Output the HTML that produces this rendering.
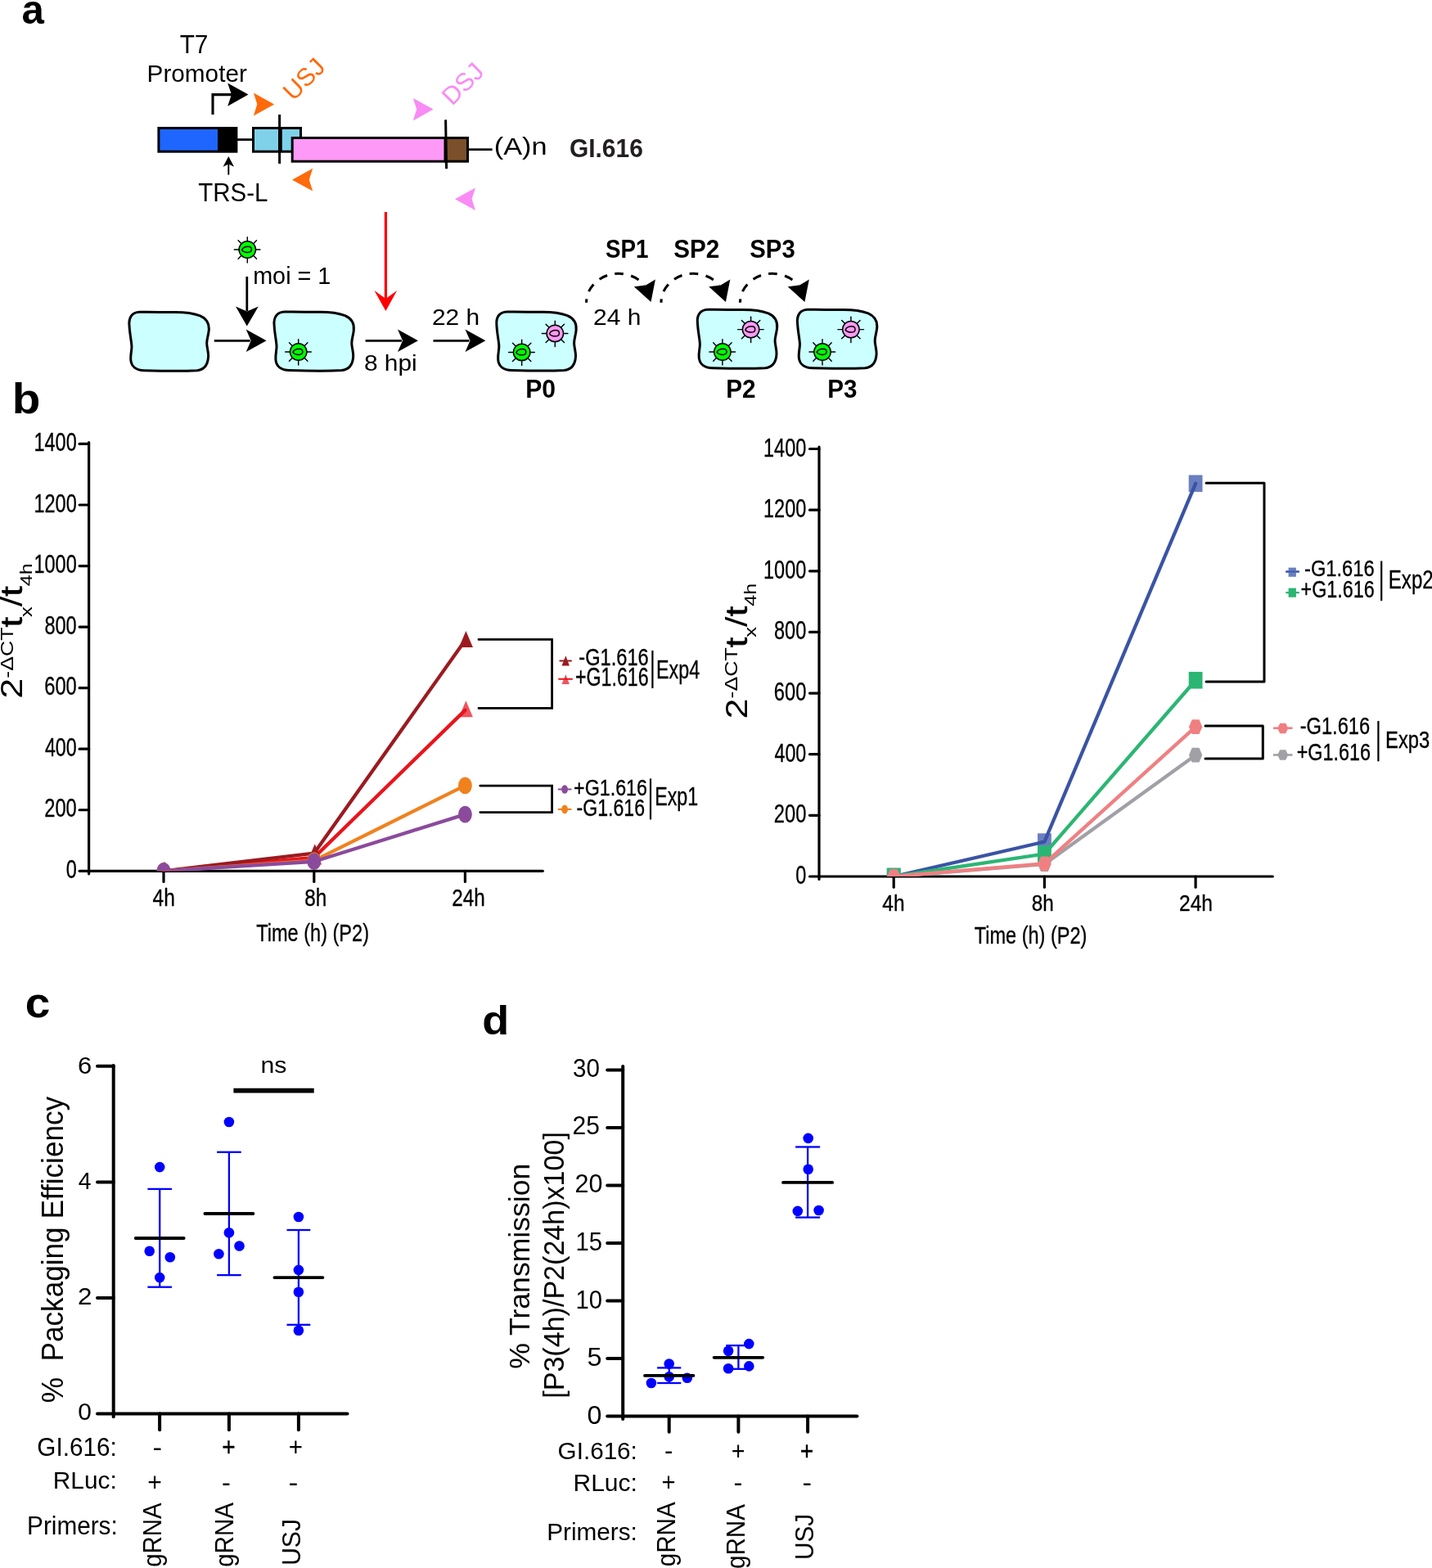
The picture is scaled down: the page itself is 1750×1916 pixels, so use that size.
<!DOCTYPE html>
<html><head><meta charset="utf-8"><title>Figure</title>
<style>html,body{margin:0;padding:0;background:#fff;}svg{display:block;}</style>
</head><body>
<svg xmlns="http://www.w3.org/2000/svg" width="1750" height="1916" viewBox="0 0 1750 1916" font-family="'Liberation Sans', Arial, sans-serif">
<text x="26.52" y="29.11" font-size="49.20" font-weight="bold">a</text>
<text x="219.63" y="65.00" font-size="30.55" textLength="34.82" lengthAdjust="spacingAndGlyphs">T7</text>
<text x="179.55" y="100.00" font-size="29.09" textLength="122.30" lengthAdjust="spacingAndGlyphs">Promoter</text>
<polyline points="260.00,140.00 260.00,115.60 283.00,115.60" fill="none" stroke="#000" stroke-width="3.1" stroke-linejoin="miter"/>
<polygon points="303.50,115.40 278.20,101.40 282.90,115.40 278.20,129.70" fill="#000"/>
<polygon points="335.10,127.40 309.90,113.50 314.30,127.20 309.90,141.50" fill="#FF6A0A"/>
<polygon points="357.00,219.70 382.20,205.70 377.80,219.70 382.20,233.60" fill="#FF6A0A"/>
<text x="358.50" y="124.20" font-size="30.5" text-anchor="start" fill="#FF6A0A" transform="rotate(-45 358.50 124.20)">USJ</text>
<polygon points="529.60,133.60 504.80,120.00 509.20,133.60 504.80,147.50" fill="#F98BF5"/>
<polygon points="556.00,243.30 581.00,229.60 576.60,243.30 581.00,257.00" fill="#F98BF5"/>
<text x="552.50" y="130.00" font-size="30.5" text-anchor="start" fill="#F98BF5" transform="rotate(-45 552.50 130.00)">DSJ</text>
<rect x="193.9" y="156.5" width="95" height="28.7" fill="#1E66FF" stroke="#000" stroke-width="3"/>
<rect x="266" y="156.5" width="23" height="28.7" fill="#000"/>
<line x1="290.00" y1="170.60" x2="309.00" y2="170.60" stroke="#000" stroke-width="2.8" stroke-linecap="butt"/>
<rect x="309.5" y="156.5" width="58" height="28.7" fill="#7FD1EA" stroke="#000" stroke-width="3"/>
<line x1="341.60" y1="140.00" x2="341.60" y2="200.00" stroke="#000" stroke-width="3" stroke-linecap="butt"/>
<rect x="340.0" y="156" width="4.8" height="30" fill="#000"/>
<rect x="357.2" y="168.5" width="187" height="28.7" fill="#FF99F7" stroke="#000" stroke-width="3"/>
<rect x="544.2" y="168.5" width="27.3" height="28.7" fill="#7B4F2A" stroke="#000" stroke-width="3"/>
<line x1="544.60" y1="146.40" x2="545.60" y2="206.30" stroke="#000" stroke-width="3" stroke-linecap="butt"/>
<line x1="573.00" y1="182.70" x2="601.60" y2="182.70" stroke="#000" stroke-width="2.7" stroke-linecap="butt"/>
<text x="603.75" y="189.10" font-size="29.96" textLength="64.85" lengthAdjust="spacingAndGlyphs">(A)n</text>
<text x="695.90" y="191.80" font-size="30.69" font-weight="bold" fill="#231F20" textLength="89.91" lengthAdjust="spacingAndGlyphs">GI.616</text>
<line x1="279.30" y1="213.60" x2="279.30" y2="198.00" stroke="#000" stroke-width="1.9" stroke-linecap="butt"/>
<polygon points="279.30,191.00 272.60,203.70 279.30,200.60 286.00,203.70" fill="#000"/>
<text x="242.24" y="245.70" font-size="30.68" textLength="85.17" lengthAdjust="spacingAndGlyphs">TRS-L</text>
<line x1="471.40" y1="259.00" x2="471.40" y2="366.00" stroke="#FF0000" stroke-width="3.2" stroke-linecap="butt"/>
<polygon points="471.40,380.00 457.40,355.10 471.40,364.90 485.20,355.10" fill="#FF0000"/>
<defs><path id="cell" d="M 1.5,17.5 C 0.5,8 5,1.5 14,1.3 C 30,1.5 45,1.8 58,1.6 C 70,1.6 80,3 88,6 C 96,9.5 99.5,16 98.7,24 C 98,31 96,35 96.2,40 C 96.5,46 98.5,51 98.1,56 C 97.5,66 93,72 84,72.9 C 70,73.6 40,73.4 20,72.9 C 10,72.7 4,68 3.3,60 C 2.7,53 4.8,48 4.4,42.7 C 4,36 2,28 1.5,17.5 Z" fill="#CCFFFF" stroke="#000" stroke-width="3" stroke-linejoin="round"/><g id="vir"><g stroke="#000" stroke-width="1.45" stroke-linecap="round"><line x1="10" y1="0" x2="15.6" y2="0"/><line x1="-10" y1="0" x2="-16" y2="0"/><line x1="0" y1="10" x2="0" y2="16"/><line x1="0" y1="-10" x2="0" y2="-15.3"/><line x1="7.1" y1="7.1" x2="11.2" y2="11.2"/><line x1="-7.1" y1="7.1" x2="-11.2" y2="11.2"/><line x1="7.1" y1="-7.1" x2="11.2" y2="-11.2"/><line x1="-7.1" y1="-7.1" x2="-11.2" y2="-11.2"/></g></g></defs>
<use href="#cell" x="156.50" y="379.90"/>
<use href="#cell" x="333.60" y="379.70"/>
<use href="#cell" x="605.40" y="379.60"/>
<use href="#cell" x="850.90" y="376.90"/>
<use href="#cell" x="973.00" y="376.90"/>
<g transform="translate(302.30 305.00)"><use href="#vir"/><circle r="10.2" fill="#00FF00" stroke="#000" stroke-width="1.5"/><path d="M -6.7,0.4 C -5.7,-2.0 -2.4,-3.8 0.9,-3.8 C 3.8,-3.8 5.1,-2.2 5.1,-0.2 C 5.1,2.0 3.4,3.4 0.4,3.4 C -2.8,3.4 -5.5,2.3 -6.7,0.4 Z" fill="#00FF00" stroke="#000" stroke-width="1.5"/></g>
<g transform="translate(364.70 430.00)"><use href="#vir"/><circle r="10.2" fill="#00FF00" stroke="#000" stroke-width="1.5"/><path d="M -6.7,0.4 C -5.7,-2.0 -2.4,-3.8 0.9,-3.8 C 3.8,-3.8 5.1,-2.2 5.1,-0.2 C 5.1,2.0 3.4,3.4 0.4,3.4 C -2.8,3.4 -5.5,2.3 -6.7,0.4 Z" fill="#00FF00" stroke="#000" stroke-width="1.5"/></g>
<g transform="translate(637.65 430.40)"><use href="#vir"/><circle r="10.2" fill="#00FF00" stroke="#000" stroke-width="1.5"/><path d="M -6.7,0.4 C -5.7,-2.0 -2.4,-3.8 0.9,-3.8 C 3.8,-3.8 5.1,-2.2 5.1,-0.2 C 5.1,2.0 3.4,3.4 0.4,3.4 C -2.8,3.4 -5.5,2.3 -6.7,0.4 Z" fill="#00FF00" stroke="#000" stroke-width="1.5"/></g>
<g transform="translate(678.30 407.40)"><use href="#vir"/><circle r="10.2" fill="#FF99F5" stroke="#000" stroke-width="1.5"/><path d="M -6.7,0.4 C -5.7,-2.0 -2.4,-3.8 0.9,-3.8 C 3.8,-3.8 5.1,-2.2 5.1,-0.2 C 5.1,2.0 3.4,3.4 0.4,3.4 C -2.8,3.4 -5.5,2.3 -6.7,0.4 Z" fill="#FF99F5" stroke="#000" stroke-width="1.5"/></g>
<g transform="translate(882.90 430.00)"><use href="#vir"/><circle r="10.2" fill="#00FF00" stroke="#000" stroke-width="1.5"/><path d="M -6.7,0.4 C -5.7,-2.0 -2.4,-3.8 0.9,-3.8 C 3.8,-3.8 5.1,-2.2 5.1,-0.2 C 5.1,2.0 3.4,3.4 0.4,3.4 C -2.8,3.4 -5.5,2.3 -6.7,0.4 Z" fill="#00FF00" stroke="#000" stroke-width="1.5"/></g>
<g transform="translate(917.60 402.60)"><use href="#vir"/><circle r="10.2" fill="#FF99F5" stroke="#000" stroke-width="1.5"/><path d="M -6.7,0.4 C -5.7,-2.0 -2.4,-3.8 0.9,-3.8 C 3.8,-3.8 5.1,-2.2 5.1,-0.2 C 5.1,2.0 3.4,3.4 0.4,3.4 C -2.8,3.4 -5.5,2.3 -6.7,0.4 Z" fill="#FF99F5" stroke="#000" stroke-width="1.5"/></g>
<g transform="translate(1005.00 430.00)"><use href="#vir"/><circle r="10.2" fill="#00FF00" stroke="#000" stroke-width="1.5"/><path d="M -6.7,0.4 C -5.7,-2.0 -2.4,-3.8 0.9,-3.8 C 3.8,-3.8 5.1,-2.2 5.1,-0.2 C 5.1,2.0 3.4,3.4 0.4,3.4 C -2.8,3.4 -5.5,2.3 -6.7,0.4 Z" fill="#00FF00" stroke="#000" stroke-width="1.5"/></g>
<g transform="translate(1039.90 402.60)"><use href="#vir"/><circle r="10.2" fill="#FF99F5" stroke="#000" stroke-width="1.5"/><path d="M -6.7,0.4 C -5.7,-2.0 -2.4,-3.8 0.9,-3.8 C 3.8,-3.8 5.1,-2.2 5.1,-0.2 C 5.1,2.0 3.4,3.4 0.4,3.4 C -2.8,3.4 -5.5,2.3 -6.7,0.4 Z" fill="#FF99F5" stroke="#000" stroke-width="1.5"/></g>
<line x1="261.80" y1="416.30" x2="305.60" y2="416.30" stroke="#000" stroke-width="2.8" stroke-linecap="butt"/>
<polygon points="325.60,416.30 300.70,402.60 306.70,416.30 300.70,430.00" fill="#000"/>
<line x1="446.60" y1="416.30" x2="490.90" y2="416.30" stroke="#000" stroke-width="2.8" stroke-linecap="butt"/>
<polygon points="510.90,416.30 486.00,402.60 492.00,416.30 486.00,430.00" fill="#000"/>
<line x1="529.50" y1="416.30" x2="573.40" y2="416.30" stroke="#000" stroke-width="2.8" stroke-linecap="butt"/>
<polygon points="593.40,416.30 568.50,402.60 574.50,416.30 568.50,430.00" fill="#000"/>
<line x1="301.80" y1="338.00" x2="301.80" y2="380.00" stroke="#000" stroke-width="2.8" stroke-linecap="butt"/>
<polygon points="301.80,398.50 288.00,374.50 301.80,380.50 315.80,374.50" fill="#000"/>
<text x="309.16" y="347.40" font-size="29.82" textLength="95.17" lengthAdjust="spacingAndGlyphs">moi = 1</text>
<text x="444.93" y="453.40" font-size="27.45" textLength="64.85" lengthAdjust="spacingAndGlyphs">8 hpi</text>
<text x="527.90" y="397.10" font-size="28.28" textLength="58.21" lengthAdjust="spacingAndGlyphs">22 h</text>
<text x="725.00" y="396.90" font-size="28.41" textLength="58.31" lengthAdjust="spacingAndGlyphs">24 h</text>
<text x="642.27" y="486.40" font-size="30.69" font-weight="bold" textLength="36.86" lengthAdjust="spacingAndGlyphs">P0</text>
<text x="887.19" y="486.40" font-size="30.69" font-weight="bold" textLength="36.34" lengthAdjust="spacingAndGlyphs">P2</text>
<text x="1011.30" y="486.40" font-size="30.69" font-weight="bold" textLength="36.26" lengthAdjust="spacingAndGlyphs">P3</text>
<text x="739.97" y="315.40" font-size="31.85" font-weight="bold" textLength="52.50" lengthAdjust="spacingAndGlyphs">SP1</text>
<text x="823.21" y="315.40" font-size="31.85" font-weight="bold" textLength="56.00" lengthAdjust="spacingAndGlyphs">SP2</text>
<text x="916.32" y="315.40" font-size="31.85" font-weight="bold" textLength="55.41" lengthAdjust="spacingAndGlyphs">SP3</text>
<path d="M 716.60,369.70 A 39.4,35.4 0 0 1 787.47,348.40" fill="none" stroke="#000" stroke-width="3.1" stroke-dasharray="10.5,9.5" stroke-dashoffset="6.1"/>
<polygon points="795.50,369.00 774.80,350.20 789.20,348.60 800.90,341.40" fill="#000"/>
<path d="M 808.00,369.70 A 39.4,35.4 0 0 1 878.87,348.40" fill="none" stroke="#000" stroke-width="3.1" stroke-dasharray="10.5,9.5" stroke-dashoffset="6.1"/>
<polygon points="886.90,369.00 866.20,350.20 880.60,348.60 892.30,341.40" fill="#000"/>
<path d="M 904.50,369.70 A 39.4,35.4 0 0 1 975.37,348.40" fill="none" stroke="#000" stroke-width="3.1" stroke-dasharray="10.5,9.5" stroke-dashoffset="6.1"/>
<polygon points="983.40,369.00 962.70,350.20 977.10,348.60 988.80,341.40" fill="#000"/>
<text x="14.72" y="505.09" font-size="51.16" font-weight="bold" textLength="34.60" lengthAdjust="spacingAndGlyphs">b</text>
<line x1="108.60" y1="540.50" x2="108.60" y2="1067.80" stroke="#000" stroke-width="3.2" stroke-linecap="round"/>
<line x1="97.10" y1="1064.30" x2="663.30" y2="1064.30" stroke="#000" stroke-width="3.2" stroke-linecap="round"/>
<line x1="97.10" y1="989.75" x2="108.60" y2="989.75" stroke="#000" stroke-width="3.2" stroke-linecap="round"/>
<line x1="97.10" y1="915.20" x2="108.60" y2="915.20" stroke="#000" stroke-width="3.2" stroke-linecap="round"/>
<line x1="97.10" y1="840.65" x2="108.60" y2="840.65" stroke="#000" stroke-width="3.2" stroke-linecap="round"/>
<line x1="97.10" y1="766.10" x2="108.60" y2="766.10" stroke="#000" stroke-width="3.2" stroke-linecap="round"/>
<line x1="97.10" y1="691.55" x2="108.60" y2="691.55" stroke="#000" stroke-width="3.2" stroke-linecap="round"/>
<line x1="97.10" y1="617.00" x2="108.60" y2="617.00" stroke="#000" stroke-width="3.2" stroke-linecap="round"/>
<line x1="97.10" y1="542.45" x2="108.60" y2="542.45" stroke="#000" stroke-width="3.2" stroke-linecap="round"/>
<text x="80.66" y="1072.80" font-size="31.54" textLength="13.05" lengthAdjust="spacingAndGlyphs" stroke="#000" stroke-width="0.35">0</text>
<text x="54.22" y="998.25" font-size="31.54" textLength="39.50" lengthAdjust="spacingAndGlyphs" stroke="#000" stroke-width="0.35">200</text>
<text x="54.88" y="923.70" font-size="31.54" textLength="38.82" lengthAdjust="spacingAndGlyphs" stroke="#000" stroke-width="0.35">400</text>
<text x="54.22" y="849.15" font-size="31.54" textLength="39.50" lengthAdjust="spacingAndGlyphs" stroke="#000" stroke-width="0.35">600</text>
<text x="54.40" y="774.60" font-size="31.54" textLength="39.31" lengthAdjust="spacingAndGlyphs" stroke="#000" stroke-width="0.35">800</text>
<text x="41.44" y="700.05" font-size="31.54" textLength="52.30" lengthAdjust="spacingAndGlyphs" stroke="#000" stroke-width="0.35">1000</text>
<text x="41.44" y="625.50" font-size="31.54" textLength="52.30" lengthAdjust="spacingAndGlyphs" stroke="#000" stroke-width="0.35">1200</text>
<text x="41.44" y="550.95" font-size="31.54" textLength="52.30" lengthAdjust="spacingAndGlyphs" stroke="#000" stroke-width="0.35">1400</text>
<line x1="200.00" y1="1064.30" x2="200.00" y2="1077.50" stroke="#000" stroke-width="3.2" stroke-linecap="round"/>
<line x1="383.80" y1="1064.30" x2="383.80" y2="1077.50" stroke="#000" stroke-width="3.2" stroke-linecap="round"/>
<line x1="568.40" y1="1064.30" x2="568.40" y2="1077.50" stroke="#000" stroke-width="3.2" stroke-linecap="round"/>
<text x="186.55" y="1106.90" font-size="28.83" textLength="27.24" lengthAdjust="spacingAndGlyphs" stroke="#000" stroke-width="0.35">4h</text>
<text x="372.17" y="1106.90" font-size="28.83" textLength="27.01" lengthAdjust="spacingAndGlyphs" stroke="#000" stroke-width="0.35">8h</text>
<text x="552.29" y="1106.90" font-size="28.83" textLength="40.45" lengthAdjust="spacingAndGlyphs" stroke="#000" stroke-width="0.35">24h</text>
<text x="313.27" y="1150.00" font-size="30.40" textLength="137.73" lengthAdjust="spacingAndGlyphs" stroke="#000" stroke-width="0.35">Time (h) (P2)</text>
<text transform="translate(27.30 853.70) rotate(-90)" font-size="37" textLength="165.50" lengthAdjust="spacingAndGlyphs">2<tspan font-size="21.8" dy="-11.3">-ΔCT</tspan><tspan dy="11.3" stroke="#000" stroke-width="0.55">t</tspan><tspan font-size="21" dy="11.8">x</tspan><tspan dy="-11.8">/</tspan><tspan stroke="#000" stroke-width="0.55">t</tspan><tspan font-size="20.6" dy="11.8">4h</tspan></text>
<clipPath id="clipL"><rect x="100" y="500" width="600" height="564.3"/></clipPath>
<clipPath id="clipR"><rect x="990" y="500" width="600" height="571.0"/></clipPath>
<g clip-path="url(#clipL)">
<polygon points="201.00,1052.80 192.50,1072.80 209.50,1072.80" fill="#EE5560"/>
<polygon points="384.80,1036.40 376.30,1056.40 393.30,1056.40" fill="#EE5560"/>
<polygon points="569.40,856.36 560.90,876.36 577.90,876.36" fill="#EE5560"/>
<polyline points="200.00,1064.30 383.80,1047.90 568.40,867.86" fill="none" stroke="#E8141C" stroke-width="4.3" stroke-linejoin="round" stroke-linecap="round"/>
<polygon points="201.00,1052.80 192.50,1072.80 209.50,1072.80" fill="#9B1B20"/>
<polygon points="384.80,1031.18 376.30,1051.18 393.30,1051.18" fill="#9B1B20"/>
<polygon points="569.40,771.00 560.90,791.00 577.90,791.00" fill="#9B1B20"/>
<polyline points="200.00,1064.30 383.80,1042.68 568.40,782.50" fill="none" stroke="#9B1B20" stroke-width="4.3" stroke-linejoin="round" stroke-linecap="round"/>
<ellipse cx="200.00" cy="1064.30" rx="8.4" ry="10.4" fill="#F0821E"/>
<ellipse cx="383.80" cy="1051.63" rx="8.4" ry="10.4" fill="#F0821E"/>
<ellipse cx="568.40" cy="959.93" rx="8.4" ry="10.4" fill="#F0821E"/>
<polyline points="200.00,1064.30 383.80,1051.63 568.40,959.93" fill="none" stroke="#F0821E" stroke-width="4.3" stroke-linejoin="round" stroke-linecap="round"/>
<ellipse cx="200.00" cy="1064.30" rx="8.4" ry="10.4" fill="#8B4A9C"/>
<ellipse cx="383.80" cy="1052.74" rx="8.4" ry="10.4" fill="#8B4A9C"/>
<ellipse cx="568.40" cy="995.15" rx="8.4" ry="10.4" fill="#8B4A9C"/>
<polyline points="200.00,1064.30 383.80,1052.74 568.40,995.15" fill="none" stroke="#8B4A9C" stroke-width="4.3" stroke-linejoin="round" stroke-linecap="round"/>
</g>
<polyline points="585.00,781.40 674.60,781.40 674.60,865.40 585.00,865.40" fill="none" stroke="#000" stroke-width="2.8" stroke-linecap="round"/>
<polyline points="586.80,960.20 674.60,960.20 674.60,992.60 586.80,992.60" fill="none" stroke="#000" stroke-width="2.8" stroke-linecap="round"/>
<line x1="684.40" y1="807.50" x2="698.00" y2="807.50" stroke="#9B1B20" stroke-width="2.1" stroke-linecap="round"/>
<polygon points="691.40,801.30 686.50,813.50 695.90,813.50" fill="#9B1B20"/>
<polygon points="691.40,824.00 686.50,836.10 695.90,836.10" fill="#EE5560"/>
<line x1="683.10" y1="829.80" x2="699.00" y2="829.80" stroke="#E8141C" stroke-width="2.1" stroke-linecap="round"/>
<text x="707.34" y="812.80" font-size="28.67" textLength="85.39" lengthAdjust="spacingAndGlyphs" stroke="#000" stroke-width="0.35">-G1.616</text>
<text x="702.90" y="838.30" font-size="31.54" textLength="89.84" lengthAdjust="spacingAndGlyphs" stroke="#000" stroke-width="0.35">+G1.616</text>
<line x1="797.40" y1="794.90" x2="797.40" y2="841.00" stroke="#000" stroke-width="2.2" stroke-linecap="butt"/>
<text x="802.08" y="828.80" font-size="30.98" textLength="53.11" lengthAdjust="spacingAndGlyphs" stroke="#000" stroke-width="0.35">Exp4</text>
<line x1="682.60" y1="964.50" x2="697.70" y2="964.50" stroke="#8B4A9C" stroke-width="1.9" stroke-linecap="round"/>
<ellipse cx="690.1" cy="964.5" rx="3.9" ry="5.35" fill="#8B4A9C"/>
<line x1="682.60" y1="988.90" x2="697.70" y2="988.90" stroke="#EE6D00" stroke-width="1.9" stroke-linecap="round"/>
<ellipse cx="690.1" cy="988.9" rx="3.9" ry="5.35" fill="#F0821E"/>
<text x="701.10" y="972.10" font-size="27.38" textLength="89.84" lengthAdjust="spacingAndGlyphs" stroke="#000" stroke-width="0.35">+G1.616</text>
<text x="704.56" y="996.70" font-size="28.67" textLength="83.44" lengthAdjust="spacingAndGlyphs" stroke="#000" stroke-width="0.35">-G1.616</text>
<line x1="795.00" y1="951.40" x2="795.00" y2="1001.40" stroke="#000" stroke-width="2.2" stroke-linecap="butt"/>
<text x="800.18" y="983.50" font-size="30.55" textLength="52.96" lengthAdjust="spacingAndGlyphs" stroke="#000" stroke-width="0.35">Exp1</text>
<line x1="1001.00" y1="546.00" x2="1001.00" y2="1074.50" stroke="#000" stroke-width="3.2" stroke-linecap="round"/>
<line x1="989.50" y1="1071.00" x2="1555.30" y2="1071.00" stroke="#000" stroke-width="3.2" stroke-linecap="round"/>
<line x1="989.50" y1="996.36" x2="1001.00" y2="996.36" stroke="#000" stroke-width="3.2" stroke-linecap="round"/>
<line x1="989.50" y1="921.72" x2="1001.00" y2="921.72" stroke="#000" stroke-width="3.2" stroke-linecap="round"/>
<line x1="989.50" y1="847.08" x2="1001.00" y2="847.08" stroke="#000" stroke-width="3.2" stroke-linecap="round"/>
<line x1="989.50" y1="772.44" x2="1001.00" y2="772.44" stroke="#000" stroke-width="3.2" stroke-linecap="round"/>
<line x1="989.50" y1="697.80" x2="1001.00" y2="697.80" stroke="#000" stroke-width="3.2" stroke-linecap="round"/>
<line x1="989.50" y1="623.16" x2="1001.00" y2="623.16" stroke="#000" stroke-width="3.2" stroke-linecap="round"/>
<line x1="989.50" y1="548.52" x2="1001.00" y2="548.52" stroke="#000" stroke-width="3.2" stroke-linecap="round"/>
<text x="972.26" y="1080.00" font-size="31.83" textLength="13.05" lengthAdjust="spacingAndGlyphs" stroke="#000" stroke-width="0.35">0</text>
<text x="945.82" y="1005.36" font-size="31.83" textLength="39.50" lengthAdjust="spacingAndGlyphs" stroke="#000" stroke-width="0.35">200</text>
<text x="946.48" y="930.72" font-size="31.83" textLength="38.82" lengthAdjust="spacingAndGlyphs" stroke="#000" stroke-width="0.35">400</text>
<text x="945.82" y="856.08" font-size="31.83" textLength="39.50" lengthAdjust="spacingAndGlyphs" stroke="#000" stroke-width="0.35">600</text>
<text x="946.00" y="781.44" font-size="31.83" textLength="39.31" lengthAdjust="spacingAndGlyphs" stroke="#000" stroke-width="0.35">800</text>
<text x="933.04" y="706.80" font-size="31.83" textLength="52.30" lengthAdjust="spacingAndGlyphs" stroke="#000" stroke-width="0.35">1000</text>
<text x="933.04" y="632.16" font-size="31.83" textLength="52.30" lengthAdjust="spacingAndGlyphs" stroke="#000" stroke-width="0.35">1200</text>
<text x="933.04" y="557.52" font-size="31.83" textLength="52.30" lengthAdjust="spacingAndGlyphs" stroke="#000" stroke-width="0.35">1400</text>
<line x1="1092.20" y1="1071.00" x2="1092.20" y2="1084.20" stroke="#000" stroke-width="3.2" stroke-linecap="round"/>
<line x1="1276.40" y1="1071.00" x2="1276.40" y2="1084.20" stroke="#000" stroke-width="3.2" stroke-linecap="round"/>
<line x1="1461.10" y1="1071.00" x2="1461.10" y2="1084.20" stroke="#000" stroke-width="3.2" stroke-linecap="round"/>
<text x="1078.35" y="1112.70" font-size="27.72" textLength="27.24" lengthAdjust="spacingAndGlyphs" stroke="#000" stroke-width="0.35">4h</text>
<text x="1260.87" y="1112.70" font-size="27.72" textLength="27.01" lengthAdjust="spacingAndGlyphs" stroke="#000" stroke-width="0.35">8h</text>
<text x="1440.97" y="1112.70" font-size="27.72" textLength="40.99" lengthAdjust="spacingAndGlyphs" stroke="#000" stroke-width="0.35">24h</text>
<text x="1190.77" y="1153.00" font-size="29.38" textLength="137.63" lengthAdjust="spacingAndGlyphs" stroke="#000" stroke-width="0.35">Time (h) (P2)</text>
<text transform="translate(912.60 878.50) rotate(-90)" font-size="37" textLength="165.70" lengthAdjust="spacingAndGlyphs">2<tspan font-size="21.8" dy="-11.3">-ΔCT</tspan><tspan dy="11.3" stroke="#000" stroke-width="0.55">t</tspan><tspan font-size="21" dy="11.8">x</tspan><tspan dy="-11.8">/</tspan><tspan stroke="#000" stroke-width="0.55">t</tspan><tspan font-size="20.6" dy="11.8">4h</tspan></text>
<g clip-path="url(#clipR)">
<rect x="1083.80" y="1060.70" width="16.8" height="20.6" fill="#6A7FC0"/>
<rect x="1268.00" y="1018.30" width="16.8" height="20.6" fill="#6A7FC0"/>
<rect x="1452.70" y="580.50" width="16.8" height="20.6" fill="#6A7FC0"/>
<polyline points="1092.20,1071.00 1276.40,1028.60 1461.10,590.80" fill="none" stroke="#3A54A4" stroke-width="4.3" stroke-linejoin="round" stroke-linecap="round"/>
<rect x="1083.80" y="1060.70" width="16.8" height="20.6" fill="#2BB673"/>
<rect x="1268.00" y="1033.20" width="16.8" height="20.6" fill="#2BB673"/>
<rect x="1452.70" y="820.92" width="16.8" height="20.6" fill="#2BB673"/>
<polyline points="1092.20,1071.00 1276.40,1043.50 1461.10,831.22" fill="none" stroke="#2BB673" stroke-width="4.3" stroke-linejoin="round" stroke-linecap="round"/>
<polygon points="1084.05,1071.00 1087.80,1062.15 1096.60,1062.15 1100.35,1071.00 1096.60,1079.85 1087.80,1079.85" fill="#A0A0A6"/>
<polygon points="1268.25,1056.07 1272.00,1047.22 1280.80,1047.22 1284.55,1056.07 1280.80,1064.92 1272.00,1064.92" fill="#A0A0A6"/>
<polygon points="1452.95,922.65 1456.70,913.80 1465.50,913.80 1469.25,922.65 1465.50,931.50 1456.70,931.50" fill="#A0A0A6"/>
<polyline points="1092.20,1071.00 1276.40,1056.07 1461.10,922.65" fill="none" stroke="#A0A0A6" stroke-width="4.3" stroke-linejoin="round" stroke-linecap="round"/>
<polygon points="1084.05,1071.00 1087.80,1062.15 1096.60,1062.15 1100.35,1071.00 1096.60,1079.85 1087.80,1079.85" fill="#F07F82"/>
<polygon points="1268.25,1055.33 1272.00,1046.48 1280.80,1046.48 1284.55,1055.33 1280.80,1064.18 1272.00,1064.18" fill="#F07F82"/>
<polygon points="1452.95,888.13 1456.70,879.28 1465.50,879.28 1469.25,888.13 1465.50,896.98 1456.70,896.98" fill="#F07F82"/>
<polyline points="1092.20,1071.00 1276.40,1055.33 1461.10,888.13" fill="none" stroke="#F07F82" stroke-width="4.3" stroke-linejoin="round" stroke-linecap="round"/>
</g>
<polyline points="1474.00,590.30 1545.00,590.30 1545.00,833.00 1474.00,833.00" fill="none" stroke="#000" stroke-width="3.0" stroke-linecap="round" stroke-linejoin="round"/>
<polyline points="1473.00,886.90 1543.30,886.90 1543.30,927.10 1473.00,927.10" fill="none" stroke="#000" stroke-width="3.0" stroke-linecap="round" stroke-linejoin="round"/>
<line x1="1571.30" y1="698.50" x2="1587.80" y2="698.50" stroke="#3A54A4" stroke-width="2.2" stroke-linecap="butt"/>
<rect x="1574.6" y="693.6" width="9.3" height="11.2" fill="#6A7FC0"/>
<line x1="1571.30" y1="698.50" x2="1587.80" y2="698.50" stroke="#3A54A4" stroke-width="2.0" stroke-linecap="butt" opacity="0.8"/>
<line x1="1571.30" y1="724.10" x2="1587.80" y2="724.10" stroke="#2BB673" stroke-width="2.2" stroke-linecap="butt"/>
<rect x="1574.6" y="718.6" width="9.3" height="11.2" fill="#2BB673"/>
<text x="1594.03" y="704.20" font-size="28.53" textLength="85.59" lengthAdjust="spacingAndGlyphs" stroke="#000" stroke-width="0.35">-G1.616</text>
<text x="1589.59" y="730.30" font-size="29.39" textLength="90.04" lengthAdjust="spacingAndGlyphs" stroke="#000" stroke-width="0.35">+G1.616</text>
<line x1="1688.20" y1="685.50" x2="1688.20" y2="734.20" stroke="#000" stroke-width="2.2" stroke-linecap="butt"/>
<text x="1696.81" y="718.70" font-size="31.13" textLength="54.94" lengthAdjust="spacingAndGlyphs" stroke="#000" stroke-width="0.35">Exp2</text>
<line x1="1555.90" y1="889.70" x2="1579.50" y2="889.70" stroke="#F07F82" stroke-width="2.6" stroke-linecap="butt"/>
<polygon points="1561.20,890.10 1564.19,883.85 1571.21,883.85 1574.20,890.10 1571.21,896.35 1564.19,896.35" fill="#F07F82"/>
<line x1="1555.90" y1="922.50" x2="1579.50" y2="922.50" stroke="#A0A0A6" stroke-width="2.6" stroke-linecap="butt"/>
<polygon points="1561.20,922.50 1564.19,916.25 1571.21,916.25 1574.20,922.50 1571.21,928.75 1564.19,928.75" fill="#A0A0A6"/>
<text x="1588.64" y="897.40" font-size="29.39" textLength="85.49" lengthAdjust="spacingAndGlyphs" stroke="#000" stroke-width="0.35">-G1.616</text>
<text x="1584.69" y="929.30" font-size="29.39" textLength="90.45" lengthAdjust="spacingAndGlyphs" stroke="#000" stroke-width="0.35">+G1.616</text>
<line x1="1684.40" y1="881.00" x2="1684.40" y2="930.30" stroke="#000" stroke-width="2.2" stroke-linecap="butt"/>
<text x="1693.04" y="913.80" font-size="29.82" textLength="54.22" lengthAdjust="spacingAndGlyphs" stroke="#000" stroke-width="0.35">Exp3</text>
<text x="30.70" y="1243.48" font-size="51.69" font-weight="bold" textLength="30.58" lengthAdjust="spacingAndGlyphs">c</text>
<line x1="138.70" y1="1302.00" x2="138.70" y2="1731.20" stroke="#000" stroke-width="4.0" stroke-linecap="round"/>
<line x1="119.00" y1="1727.60" x2="424.50" y2="1727.60" stroke="#000" stroke-width="4.0" stroke-linecap="round"/>
<line x1="119.00" y1="1586.00" x2="138.70" y2="1586.00" stroke="#000" stroke-width="4.0" stroke-linecap="round"/>
<line x1="119.00" y1="1444.40" x2="138.70" y2="1444.40" stroke="#000" stroke-width="4.0" stroke-linecap="round"/>
<line x1="119.00" y1="1302.80" x2="138.70" y2="1302.80" stroke="#000" stroke-width="4.0" stroke-linecap="round"/>
<text x="94.95" y="1311.50" font-size="29.39" textLength="17.20" lengthAdjust="spacingAndGlyphs">6</text>
<text x="95.86" y="1453.30" font-size="29.39" textLength="15.75" lengthAdjust="spacingAndGlyphs">4</text>
<text x="94.93" y="1594.40" font-size="29.39" textLength="17.48" lengthAdjust="spacingAndGlyphs">2</text>
<text x="95.30" y="1735.40" font-size="29.39" textLength="16.66" lengthAdjust="spacingAndGlyphs">0</text>
<line x1="195.10" y1="1727.60" x2="195.10" y2="1747.20" stroke="#000" stroke-width="4.0" stroke-linecap="round"/>
<line x1="279.90" y1="1727.60" x2="279.90" y2="1747.20" stroke="#000" stroke-width="4.0" stroke-linecap="round"/>
<line x1="364.90" y1="1727.60" x2="364.90" y2="1747.20" stroke="#000" stroke-width="4.0" stroke-linecap="round"/>
<text x="318.46" y="1311.30" font-size="27.91" textLength="31.93" lengthAdjust="spacingAndGlyphs">ns</text>
<line x1="285.40" y1="1332.60" x2="383.70" y2="1332.60" stroke="#000" stroke-width="5.6" stroke-linecap="butt"/>
<line x1="195.20" y1="1452.90" x2="195.20" y2="1572.70" stroke="#0000FF" stroke-width="2.3" stroke-linecap="butt"/>
<line x1="180.40" y1="1452.90" x2="210.00" y2="1452.90" stroke="#0000FF" stroke-width="2.3" stroke-linecap="butt"/>
<line x1="180.40" y1="1572.70" x2="210.00" y2="1572.70" stroke="#0000FF" stroke-width="2.3" stroke-linecap="butt"/>
<circle cx="195.20" cy="1426.10" r="6.3" fill="#0000FF"/>
<circle cx="182.70" cy="1528.80" r="6.3" fill="#0000FF"/>
<circle cx="207.80" cy="1536.30" r="6.3" fill="#0000FF"/>
<circle cx="195.20" cy="1561.10" r="6.3" fill="#0000FF"/>
<line x1="165.70" y1="1513.00" x2="224.70" y2="1513.00" stroke="#000" stroke-width="3.8" stroke-linecap="round"/>
<line x1="279.90" y1="1407.80" x2="279.90" y2="1558.10" stroke="#0000FF" stroke-width="2.3" stroke-linecap="butt"/>
<line x1="265.10" y1="1407.80" x2="294.70" y2="1407.80" stroke="#0000FF" stroke-width="2.3" stroke-linecap="butt"/>
<line x1="265.10" y1="1558.10" x2="294.70" y2="1558.10" stroke="#0000FF" stroke-width="2.3" stroke-linecap="butt"/>
<circle cx="279.90" cy="1371.00" r="6.3" fill="#0000FF"/>
<circle cx="279.90" cy="1506.30" r="6.3" fill="#0000FF"/>
<circle cx="292.50" cy="1522.50" r="6.3" fill="#0000FF"/>
<circle cx="267.40" cy="1532.30" r="6.3" fill="#0000FF"/>
<line x1="250.40" y1="1483.00" x2="309.40" y2="1483.00" stroke="#000" stroke-width="3.8" stroke-linecap="round"/>
<line x1="364.90" y1="1503.00" x2="364.90" y2="1618.80" stroke="#0000FF" stroke-width="2.3" stroke-linecap="butt"/>
<line x1="350.50" y1="1503.00" x2="379.30" y2="1503.00" stroke="#0000FF" stroke-width="2.3" stroke-linecap="butt"/>
<line x1="350.50" y1="1618.80" x2="379.30" y2="1618.80" stroke="#0000FF" stroke-width="2.3" stroke-linecap="butt"/>
<circle cx="364.90" cy="1487.00" r="6.3" fill="#0000FF"/>
<circle cx="364.90" cy="1551.90" r="6.3" fill="#0000FF"/>
<circle cx="364.90" cy="1578.70" r="6.3" fill="#0000FF"/>
<circle cx="364.90" cy="1625.80" r="6.3" fill="#0000FF"/>
<line x1="335.40" y1="1561.10" x2="394.40" y2="1561.10" stroke="#000" stroke-width="3.8" stroke-linecap="round"/>
<text transform="translate(76.60 1714.23) rotate(-90)" font-size="36.51" style="white-space:pre" textLength="374.39" lengthAdjust="spacingAndGlyphs">%  Packaging Efficiency</text>
<text x="45.32" y="1779.20" font-size="30.82" textLength="97.35" lengthAdjust="spacingAndGlyphs">GI.616:</text>
<text x="64.84" y="1819.10" font-size="30.40" textLength="77.84" lengthAdjust="spacingAndGlyphs">RLuc:</text>
<text x="33.05" y="1874.60" font-size="31.27" textLength="110.72" lengthAdjust="spacingAndGlyphs">Primers:</text>
<text x="186.44" y="1778.80" font-size="30.80" textLength="11.55" lengthAdjust="spacingAndGlyphs">-</text>
<text x="271.27" y="1778.80" font-size="30.80" textLength="16.41" lengthAdjust="spacingAndGlyphs" stroke="#000" stroke-width="0.35">+</text>
<text x="352.80" y="1778.80" font-size="30.80" textLength="17.25" lengthAdjust="spacingAndGlyphs">+</text>
<text x="180.37" y="1821.80" font-size="30.80" textLength="17.61" lengthAdjust="spacingAndGlyphs">+</text>
<text x="271.13" y="1821.80" font-size="30.80" textLength="10.87" lengthAdjust="spacingAndGlyphs">-</text>
<text x="352.60" y="1821.80" font-size="30.80" textLength="11.83" lengthAdjust="spacingAndGlyphs">-</text>
<text transform="translate(197.10 1914.85) rotate(-90)" font-size="30.55" textLength="78.63" lengthAdjust="spacingAndGlyphs">gRNA</text>
<text transform="translate(285.10 1914.86) rotate(-90)" font-size="30.98" textLength="78.83" lengthAdjust="spacingAndGlyphs">gRNA</text>
<text transform="translate(366.50 1912.83) rotate(-90)" font-size="31.27" textLength="56.76" lengthAdjust="spacingAndGlyphs">USJ</text>
<text x="589.34" y="1263.50" font-size="50.07" font-weight="bold" textLength="33.02" lengthAdjust="spacingAndGlyphs">d</text>
<line x1="761.20" y1="1303.00" x2="761.20" y2="1734.10" stroke="#000" stroke-width="4.0" stroke-linecap="round"/>
<line x1="742.20" y1="1730.50" x2="1047.40" y2="1730.50" stroke="#000" stroke-width="4.0" stroke-linecap="round"/>
<line x1="742.20" y1="1660.00" x2="761.20" y2="1660.00" stroke="#000" stroke-width="4.0" stroke-linecap="round"/>
<line x1="742.20" y1="1589.50" x2="761.20" y2="1589.50" stroke="#000" stroke-width="4.0" stroke-linecap="round"/>
<line x1="742.20" y1="1519.00" x2="761.20" y2="1519.00" stroke="#000" stroke-width="4.0" stroke-linecap="round"/>
<line x1="742.20" y1="1448.50" x2="761.20" y2="1448.50" stroke="#000" stroke-width="4.0" stroke-linecap="round"/>
<line x1="742.20" y1="1378.00" x2="761.20" y2="1378.00" stroke="#000" stroke-width="4.0" stroke-linecap="round"/>
<line x1="742.20" y1="1307.50" x2="761.20" y2="1307.50" stroke="#000" stroke-width="4.0" stroke-linecap="round"/>
<text x="699.99" y="1315.60" font-size="30.97" textLength="32.89" lengthAdjust="spacingAndGlyphs">30</text>
<text x="699.60" y="1386.40" font-size="30.68" textLength="33.37" lengthAdjust="spacingAndGlyphs">25</text>
<text x="702.47" y="1456.90" font-size="30.68" textLength="33.94" lengthAdjust="spacingAndGlyphs">20</text>
<text x="703.41" y="1527.90" font-size="31.25" textLength="32.53" lengthAdjust="spacingAndGlyphs">15</text>
<text x="703.41" y="1598.70" font-size="30.68" textLength="32.45" lengthAdjust="spacingAndGlyphs">10</text>
<text x="717.40" y="1669.20" font-size="30.68" textLength="18.03" lengthAdjust="spacingAndGlyphs">5</text>
<text x="717.41" y="1740.40" font-size="30.68" textLength="17.94" lengthAdjust="spacingAndGlyphs">0</text>
<line x1="817.70" y1="1730.50" x2="817.70" y2="1749.80" stroke="#000" stroke-width="4.0" stroke-linecap="round"/>
<line x1="902.40" y1="1730.50" x2="902.40" y2="1749.80" stroke="#000" stroke-width="4.0" stroke-linecap="round"/>
<line x1="987.10" y1="1730.50" x2="987.10" y2="1749.80" stroke="#000" stroke-width="4.0" stroke-linecap="round"/>
<line x1="817.70" y1="1671.40" x2="817.70" y2="1690.00" stroke="#0000FF" stroke-width="2.3" stroke-linecap="butt"/>
<line x1="803.10" y1="1671.40" x2="832.30" y2="1671.40" stroke="#0000FF" stroke-width="2.3" stroke-linecap="butt"/>
<line x1="803.10" y1="1690.00" x2="832.30" y2="1690.00" stroke="#0000FF" stroke-width="2.3" stroke-linecap="butt"/>
<circle cx="817.70" cy="1666.50" r="6.3" fill="#0000FF"/>
<circle cx="817.70" cy="1682.30" r="6.3" fill="#0000FF"/>
<circle cx="839.80" cy="1683.70" r="6.3" fill="#0000FF"/>
<circle cx="795.90" cy="1690.00" r="6.3" fill="#0000FF"/>
<line x1="788.00" y1="1680.90" x2="847.40" y2="1680.90" stroke="#000" stroke-width="3.8" stroke-linecap="round"/>
<line x1="902.40" y1="1644.10" x2="902.40" y2="1672.80" stroke="#0000FF" stroke-width="2.3" stroke-linecap="butt"/>
<line x1="887.30" y1="1644.10" x2="917.50" y2="1644.10" stroke="#0000FF" stroke-width="2.3" stroke-linecap="butt"/>
<line x1="887.30" y1="1672.80" x2="917.50" y2="1672.80" stroke="#0000FF" stroke-width="2.3" stroke-linecap="butt"/>
<circle cx="915.30" cy="1642.10" r="6.3" fill="#0000FF"/>
<circle cx="890.10" cy="1650.70" r="6.3" fill="#0000FF"/>
<circle cx="890.10" cy="1672.30" r="6.3" fill="#0000FF"/>
<circle cx="915.30" cy="1669.40" r="6.3" fill="#0000FF"/>
<line x1="872.60" y1="1658.80" x2="932.20" y2="1658.80" stroke="#000" stroke-width="3.8" stroke-linecap="round"/>
<line x1="987.10" y1="1401.50" x2="987.10" y2="1487.60" stroke="#0000FF" stroke-width="2.3" stroke-linecap="butt"/>
<line x1="972.10" y1="1401.50" x2="1002.10" y2="1401.50" stroke="#0000FF" stroke-width="2.3" stroke-linecap="butt"/>
<line x1="972.10" y1="1487.60" x2="1002.10" y2="1487.60" stroke="#0000FF" stroke-width="2.3" stroke-linecap="butt"/>
<circle cx="987.70" cy="1390.90" r="6.3" fill="#0000FF"/>
<circle cx="987.70" cy="1428.80" r="6.3" fill="#0000FF"/>
<circle cx="974.80" cy="1479.90" r="6.3" fill="#0000FF"/>
<circle cx="1000.60" cy="1479.00" r="6.3" fill="#0000FF"/>
<line x1="957.00" y1="1444.90" x2="1017.20" y2="1444.90" stroke="#000" stroke-width="3.8" stroke-linecap="round"/>
<text transform="translate(646.60 1672.85) rotate(-90)" font-size="35.93" textLength="251.18" lengthAdjust="spacingAndGlyphs">% Transmission</text>
<text transform="translate(688.60 1708.78) rotate(-90)" font-size="35.93" textLength="325.71" lengthAdjust="spacingAndGlyphs">[P3(4h)/P2(24h)x100]</text>
<text x="681.62" y="1782.60" font-size="29.53" textLength="97.25" lengthAdjust="spacingAndGlyphs">GI.616:</text>
<text x="700.52" y="1822.40" font-size="29.67" textLength="78.37" lengthAdjust="spacingAndGlyphs">RLuc:</text>
<text x="668.15" y="1882.30" font-size="29.82" textLength="110.72" lengthAdjust="spacingAndGlyphs">Primers:</text>
<text x="812.00" y="1782.60" font-size="30.80" textLength="10.33" lengthAdjust="spacingAndGlyphs">-</text>
<text x="893.64" y="1784.20" font-size="30.80" textLength="16.77" lengthAdjust="spacingAndGlyphs">+</text>
<text x="977.76" y="1784.20" font-size="30.80" textLength="16.53" lengthAdjust="spacingAndGlyphs" stroke="#000" stroke-width="0.35">+</text>
<text x="808.62" y="1822.40" font-size="30.80" textLength="17.01" lengthAdjust="spacingAndGlyphs">+</text>
<text x="896.53" y="1822.40" font-size="30.80" textLength="10.87" lengthAdjust="spacingAndGlyphs">-</text>
<text x="980.54" y="1822.40" font-size="30.80" textLength="11.55" lengthAdjust="spacingAndGlyphs">-</text>
<text transform="translate(824.90 1914.26) rotate(-90)" font-size="30.69" textLength="79.03" lengthAdjust="spacingAndGlyphs">gRNA</text>
<text transform="translate(910.10 1917.06) rotate(-90)" font-size="31.13" textLength="78.93" lengthAdjust="spacingAndGlyphs">gRNA</text>
<text transform="translate(994.40 1905.90) rotate(-90)" font-size="31.27" textLength="56.10" lengthAdjust="spacingAndGlyphs">USJ</text>
</svg>
</body></html>
